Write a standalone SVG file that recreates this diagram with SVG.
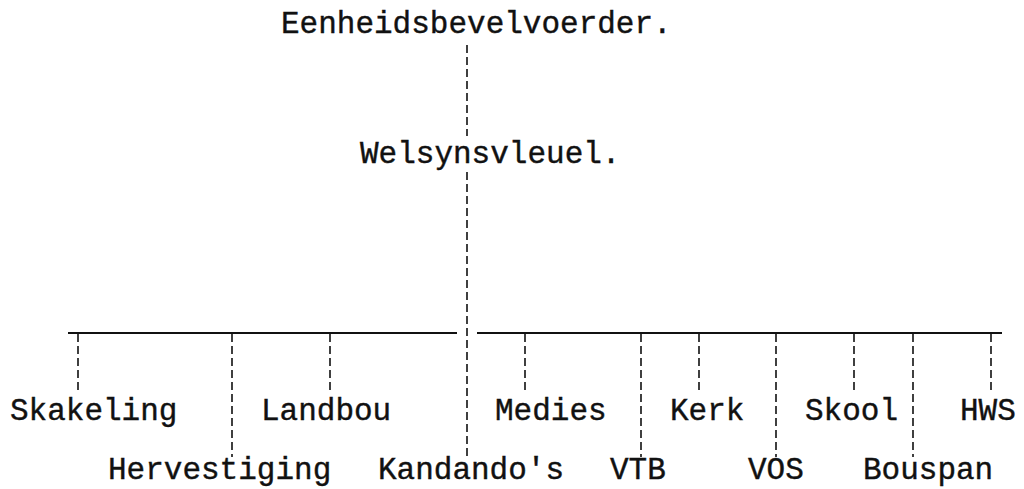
<svg xmlns="http://www.w3.org/2000/svg" width="1024" height="489" viewBox="0 0 1024 489">
<style>
.t{font-family:"Liberation Mono","DejaVu Sans Mono",monospace;font-size:31px;fill:#111;stroke:#111;stroke-width:0.4}
.d{stroke:#111;stroke-width:1.6;stroke-dasharray:8 4;fill:none}
.h{stroke:#111;stroke-width:2;fill:none}
</style>
<rect width="1024" height="489" fill="#fff"/>
<g id="connectors">
<line class="d" x1="467" y1="45" x2="467" y2="136"/>
<line class="d" x1="467" y1="172" x2="467" y2="457"/>
<line class="h" x1="68" y1="333" x2="457" y2="333"/>
<line class="h" x1="477" y1="333" x2="1002" y2="333"/>
<line class="d" x1="78" y1="334" x2="78" y2="393"/>
<line class="d" x1="232" y1="334" x2="232" y2="457"/>
<line class="d" x1="330" y1="334" x2="330" y2="393"/>
<line class="d" x1="525" y1="334" x2="525" y2="393"/>
<line class="d" x1="641" y1="334" x2="641" y2="457"/>
<line class="d" x1="699" y1="334" x2="699" y2="393"/>
<line class="d" x1="776" y1="334" x2="776" y2="457"/>
<line class="d" x1="854" y1="334" x2="854" y2="393"/>
<line class="d" x1="913" y1="334" x2="913" y2="457"/>
<line class="d" x1="991" y1="334" x2="991" y2="393"/>
</g>
<g id="eenheidsbevelvoerder"><text class="t" x="281" y="33">Eenheidsbevelvoerder.</text></g>
<g id="welsynsvleuel"><text class="t" x="360" y="163">Welsynsvleuel.</text></g>
<g id="skakeling"><text class="t" x="10" y="420">Skakeling</text></g>
<g id="landbou"><text class="t" x="261" y="420">Landbou</text></g>
<g id="medies"><text class="t" x="495" y="420">Medies</text></g>
<g id="kerk"><text class="t" x="670" y="420">Kerk</text></g>
<g id="skool"><text class="t" x="805" y="420">Skool</text></g>
<g id="hws"><text class="t" x="960" y="420">HWS</text></g>
<g id="hervestiging"><text class="t" x="108" y="479">Hervestiging</text></g>
<g id="kandandos"><text class="t" x="378" y="479">Kandando's</text></g>
<g id="vtb"><text class="t" x="610" y="479">VTB</text></g>
<g id="vos"><text class="t" x="748" y="479">VOS</text></g>
<g id="bouspan"><text class="t" x="863" y="479">Bouspan</text></g>
</svg>
